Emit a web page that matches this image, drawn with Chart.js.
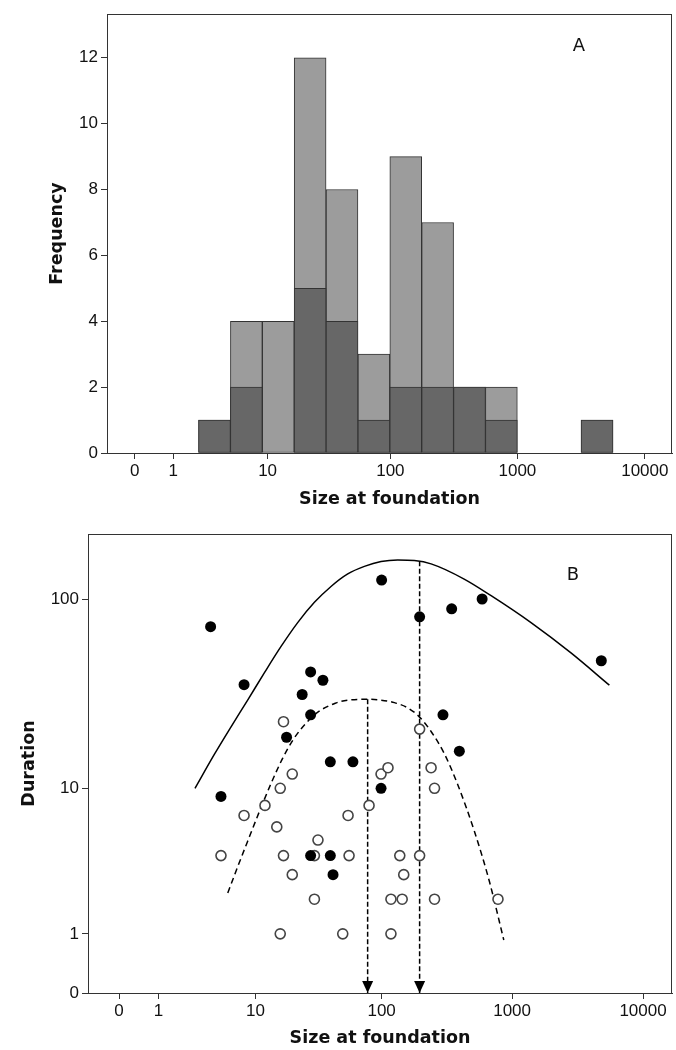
<!DOCTYPE html>
<html>
<head>
<meta charset="utf-8">
<script src="https://cdn.jsdelivr.net/npm/chart.js@4.4.1/dist/chart.umd.min.js"></script>
<style>
  html, body { margin: 0; padding: 0; background: #fff; }
  #wrap { position: relative; width: 676px; height: 1050px; }
  canvas { position: absolute; left: 0; }
  #histA { top: 0; }
  #scatterB { top: 520px; }
</style>
</head>
<body>
<div id="wrap">
  <canvas id="histA" width="676" height="520"></canvas>
  <canvas id="scatterB" width="676" height="530"></canvas>
</div>
<script>
// both x axes are drawn on log10(size + 1)
const sizeTicks = [0, 1, 10, 100, 1000, 10000];
const freqTicks = [0, 2, 4, 6, 8, 10, 12];
const durTicks = [0, 1, 10, 100];

// panel A - histogram, bins are 0.25 wide on the log10(size+1) axis
const binStart = [0.5, 0.75, 1.0, 1.25, 1.5, 1.75, 2.0, 2.25, 2.5, 2.75, 3.5];
const binTotal = [1, 4, 4, 12, 8, 3, 9, 7, 2, 2, 1];
const binDark = [1, 2, 0, 5, 4, 1, 2, 2, 2, 1, 1];
const binWidth = 0.25;

// panel B - filled points
const filledSize = [4, 8, 100, 196, 28, 35, 24, 28, 18, 40, 60, 345, 590, 4800, 296, 395, 5, 99, 28, 40, 42];
const filledDur = [72, 36, 125, 81, 42, 38, 32, 25, 19, 14, 14, 89, 100, 48, 25, 16, 9, 10, 4, 4, 3];

// panel B - open points
const openSize = [17, 20, 99, 112, 196, 240, 16, 12, 8, 15, 55, 80, 32, 5, 17, 30, 56, 138, 196, 20, 148, 30, 118, 144, 255, 780, 16, 50, 118, 255];
const openDur = [23, 12, 12, 13, 21, 13, 10, 8, 7, 6, 7, 8, 5, 4, 4, 4, 4, 4, 4, 3, 3, 2, 2, 2, 2, 2, 1, 1, 1, 10];

// upper (solid) curve
const upperSize = [2.8, 4.35, 6.16, 8.59, 11.85, 16.3, 22.1, 30, 40.5, 54.7, 73.6, 99, 133, 178.5, 240, 430, 691, 1395, 2817, 5533];
const upperDur = [10, 15.4, 21.6, 29.9, 41.5, 57.1, 75.6, 96.1, 116, 134.5, 147, 155.7, 158.6, 157.5, 151.4, 126.6, 104, 75.6, 52.7, 35.8];

// lower (dashed) curve
const lowerSize = [5.76, 7.05, 8.59, 11.1, 13.8, 16.8, 20.4, 25.3, 32.1, 43.7, 55.2, 78.1, 99, 125.5, 157.5, 191.8, 240, 303, 383.6, 514, 670, 864];
const lowerDur = [2.23, 3.39, 4.92, 7.75, 11.05, 14.7, 18.5, 22.3, 25.9, 28.8, 29.9, 30.2, 29.9, 29.0, 27.3, 24.7, 20.4, 15.5, 10.5, 5.67, 2.7, 0.86];

// arrows from the two peaks down to the axis
const arrowSize = [78, 196];
const arrowTop = [30.2, 156];

const lg = v => Math.log10(v + 1);
const ink = '#333333';
const tickFont = { family: 'Liberation Sans', size: 17 };
const titleFont = { family: 'DejaVu Sans', size: 17.5, weight: 'bold' };

// frame round the plot area + panel letter + arrow heads
const framePlugin = {
  id: 'frame',
  afterDatasetsDraw(chart, args, opts) {
    const a = chart.chartArea;
    const ctx = chart.ctx;
    ctx.save();
    ctx.strokeStyle = ink;
    ctx.lineWidth = 1;
    ctx.strokeRect(a.left + 0.5, a.top + 0.5, a.right - a.left - 1, a.bottom - a.top);
    ctx.fillStyle = '#111';
    ctx.font = '18px "DejaVu Sans"';
    ctx.textAlign = 'center';
    ctx.textBaseline = 'middle';
    ctx.fillText(opts.letter, opts.lx, opts.ly);
    chart.data.datasets.forEach((ds, i) => {
      if (!ds.arrow) return;
      const pts = chart.getDatasetMeta(i).data;
      const p = pts[pts.length - 1];
      ctx.fillStyle = '#000';
      ctx.beginPath();
      ctx.moveTo(p.x, p.y);
      ctx.lineTo(p.x - 5.5, p.y - 12);
      ctx.lineTo(p.x + 5.5, p.y - 12);
      ctx.closePath();
      ctx.fill();
    });
    ctx.restore();
  }
};

function xAxis(min, max, height, titlePad) {
  return {
    type: 'linear', min: min, max: max, offset: false,
    afterBuildTicks: s => { s.ticks = sizeTicks.map(v => ({ value: lg(v) })); },
    afterFit: s => { s.height = height; },
    ticks: { callback: (v, i) => sizeTicks[i], font: tickFont, color: '#111', autoSkip: false, maxRotation: 0, padding: 2 },
    grid: { drawOnChartArea: false, drawTicks: true, tickLength: 6, color: ink, offset: false },
    border: { display: true, color: ink, width: 1 },
    title: { display: true, text: 'Size at foundation', font: titleFont, color: '#111', padding: { top: 0, bottom: titlePad } }
  };
}

// ---- panel A
new Chart(document.getElementById('histA'), {
  type: 'bar',
  data: {
    datasets: [
      {
        data: binStart.map((b, i) => ({ x: b + binWidth / 2, y: binDark[i] })).filter(p => p.y > 0),
        backgroundColor: '#676767', borderColor: ink, borderWidth: 1, borderSkipped: false,
        grouped: false, barPercentage: 1, categoryPercentage: 1
      },
      {
        data: binStart.map((b, i) => ({ x: b + binWidth / 2, y: binTotal[i] })),
        backgroundColor: '#9c9c9c', borderColor: ink, borderWidth: 1, borderSkipped: false,
        grouped: false, barPercentage: 1, categoryPercentage: 1
      }
    ]
  },
  options: {
    responsive: false, animation: false,
    layout: { autoPadding: false, padding: { left: 0, top: 14, right: 4, bottom: 0 } },
    plugins: { legend: { display: false }, tooltip: { enabled: false }, frame: { letter: 'A', lx: 579, ly: 46 } },
    scales: {
      x: xAxis(-0.218, 4.213, 67, 10),
      y: {
        min: 0, max: 13.33,
        afterBuildTicks: s => { s.ticks = freqTicks.map(v => ({ value: v })); },
        afterFit: s => { s.width = 107; },
        ticks: { font: tickFont, color: '#111', padding: 3 },
        grid: { drawOnChartArea: false, drawTicks: true, tickLength: 6, color: ink },
        border: { display: true, color: ink, width: 1 },
        title: { display: true, text: 'Frequency', font: titleFont, color: '#111', padding: { top: 47, bottom: 0 } }
      }
    }
  },
  plugins: [framePlugin]
});

// ---- panel B
const pts = (xs, ys) => xs.map((s, i) => ({ x: lg(s), y: lg(ys[i]) }));
const arrowSets = arrowSize.map((s, i) => ({
  type: 'line', arrow: true,
  data: [{ x: lg(s), y: lg(arrowTop[i]) }, { x: lg(s), y: 0 }],
  borderColor: '#000', borderWidth: 1.5, borderDash: [5, 2.5], pointRadius: 0, fill: false
}));

new Chart(document.getElementById('scatterB'), {
  type: 'scatter',
  data: {
    datasets: [
      { data: pts(filledSize, filledDur), backgroundColor: '#000', borderColor: '#000', pointRadius: 5.5, borderWidth: 0 },
      { data: pts(openSize, openDur), backgroundColor: '#fff', borderColor: '#444', pointRadius: 5, borderWidth: 1.6 },
      {
        type: 'line', data: pts(upperSize, upperDur), borderColor: '#000', borderWidth: 1.5,
        pointRadius: 0, fill: false, cubicInterpolationMode: 'monotone'
      },
      {
        type: 'line', data: pts(lowerSize, lowerDur), borderColor: '#000', borderWidth: 1.5, borderDash: [6, 4],
        pointRadius: 0, fill: false, cubicInterpolationMode: 'monotone'
      },
      ...arrowSets
    ]
  },
  options: {
    responsive: false, animation: false,
    layout: { autoPadding: false, padding: { left: 0, top: 14, right: 4, bottom: 0 } },
    plugins: { legend: { display: false }, tooltip: { enabled: false }, frame: { letter: 'B', lx: 573, ly: 55 } },
    scales: {
      x: xAxis(-0.237, 4.221, 57, 1),
      y: {
        type: 'linear', min: 0, max: 2.335,
        afterBuildTicks: s => { s.ticks = durTicks.map(v => ({ value: lg(v) })); },
        afterFit: s => { s.width = 88; },
        ticks: { callback: (v, i) => durTicks[i], font: tickFont, color: '#111', padding: 3 },
        grid: { drawOnChartArea: false, drawTicks: true, tickLength: 6, color: ink },
        border: { display: true, color: ink, width: 1 },
        title: { display: true, text: 'Duration', font: titleFont, color: '#111', padding: { top: 19, bottom: 0 } }
      }
    }
  },
  plugins: [framePlugin]
});
</script>
</body>
</html>
